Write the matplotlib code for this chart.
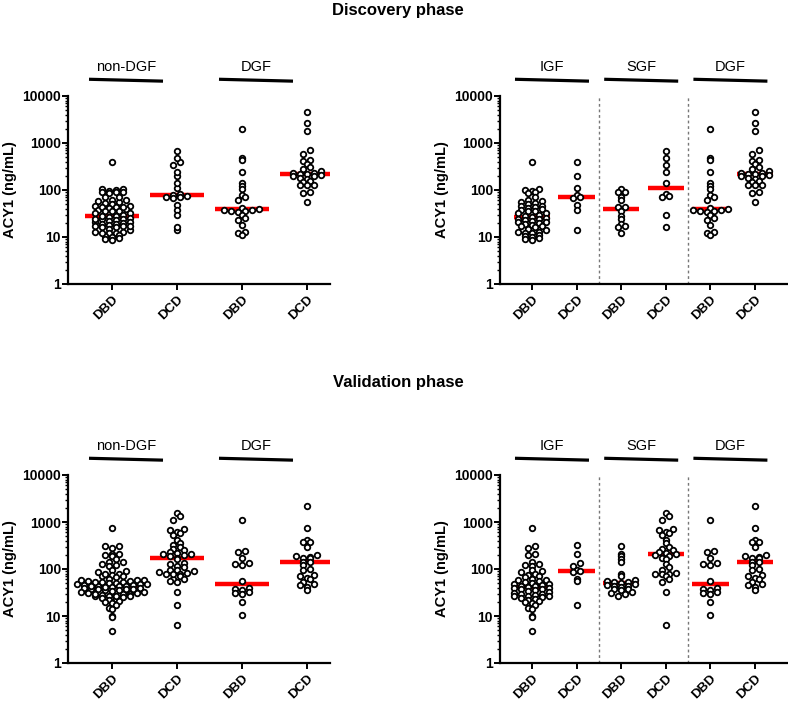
import numpy as np
import matplotlib
matplotlib.use("Agg")
import matplotlib.pyplot as plt
from matplotlib.ticker import FixedLocator, LogLocator, NullFormatter

plt.rcParams['font.family'] = ['Liberation Sans', 'DejaVu Sans']

# ---- Discovery phase (ng/mL) ----
disc_igf_dbd = [390, 105, 100, 95, 90, 88, 70, 62, 58, 55, 52, 50, 46, 45, 43, 41, 40, 38,
                36, 35, 33, 32, 30, 28, 27, 25, 24, 24, 23, 22, 21, 21, 20, 19, 18, 17, 17,
                16, 15, 14, 13, 13, 12, 12, 11, 10.5, 10, 9.5, 9, 8.5]
disc_igf_dcd = [385, 200, 108, 77, 72, 68, 48, 38, 14]
disc_sgf_dbd = [105, 92, 89, 72, 61, 43, 43, 35, 28, 24, 19, 17, 16, 12]
disc_sgf_dcd = [670, 475, 338, 247, 143, 82, 73, 70, 30, 16]
disc_dgf_dbd = [2000, 480, 430, 240, 140, 120, 105, 80, 70, 62, 42, 40, 38, 37, 36, 35, 34,
                30, 25, 23, 18, 13, 12, 11]
disc_dgf_dcd = [4500, 2700, 1800, 710, 590, 440, 410, 360, 315, 275, 250, 230, 225, 220, 215,
                210, 200, 195, 180, 175, 155, 150, 130, 128, 125, 90, 85, 56]

# ---- Validation phase (ng/mL) ----
val_igf_dbd = [730, 305, 280, 205, 200, 140, 125, 120, 115, 97, 90, 85, 80, 76, 70, 66, 62, 59,
               57, 55, 53, 51, 49, 47, 46, 44, 43, 41, 40, 39, 38, 37, 36, 34, 33, 31, 30, 29,
               28, 27, 26, 26, 25, 24, 23, 22, 21, 20, 19, 17, 15, 14, 10, 9.5, 4.8]
val_igf_dcd = [320, 205, 135, 115, 95, 90, 88, 62, 55, 17]
val_sgf_dbd = [305, 213, 187, 163, 139, 79, 70, 57, 55, 53, 52, 51, 49, 46, 44, 43, 42, 38, 37,
               36, 32, 31, 30, 27]
val_sgf_dcd = [1530, 1340, 1100, 700, 680, 600, 580, 520, 405, 360, 290, 265, 250, 230, 215,
               210, 200, 190, 175, 160, 128, 109, 95, 82, 80, 80, 78, 72, 61, 52, 32, 6.5]
val_dgf_dbd = [1100, 245, 235, 175, 137, 125, 121, 55, 40, 37, 36, 32, 31, 30, 20, 10.5]
val_dgf_dcd = [2200, 740, 410, 380, 380, 290, 200, 185, 180, 175, 170, 140, 138, 122, 100, 95,
               74, 72, 63, 60, 54, 48, 46, 41, 35]

donor_labels_2 = ['DBD', 'DCD', 'DBD', 'DCD']
donor_labels_3 = ['DBD', 'DCD', 'DBD', 'DCD', 'DBD', 'DCD']
outcome_2 = ['non-DGF', 'DGF']
outcome_3 = ['IGF', 'SGF', 'DGF']
yticks = [1, 10, 100, 1000, 10000]

W, H = 788, 704
PX_DEC = 47.0   # pixels per decade on the y axis
STEP = 7.0      # horizontal spacing between points in a row (px)
ROW_H = 4.2     # height of a row bin (px)


def swarm_offsets(vals, step, row_h, px_per_dec):
    # GraphPad-like scatter: bin values into rows, spread each row around the centre
    ys = np.log10(vals) * px_per_dec
    rows = np.floor(ys / row_h).astype(int)
    xs = np.zeros(len(ys))
    for r in np.unique(rows):
        idx = np.where(rows == r)[0]
        idx = idx[np.argsort(ys[idx])]
        n = len(idx)
        pos = (np.arange(n) - (n - 1) / 2) * step
        order = np.argsort(np.abs(pos), kind='stable')
        for k, i in enumerate(idx):
            xs[i] = pos[order[k]]
    return xs


def draw_panel(ax, groups, xlabels, outcomes, xlim, bar_shift, dividers=()):
    ax.set_xlim(*xlim)
    ax.set_yscale('log')
    ax.set_ylim(1, 10000)
    px_unit = ax.get_position().width * W / (xlim[1] - xlim[0])

    for i, vals in enumerate(groups):
        vals = np.asarray(vals, float)
        off = swarm_offsets(vals, STEP, ROW_H, PX_DEC) / px_unit
        med = np.median(vals)
        ax.plot([i - 0.41, i + 0.41], [med, med], color='#ff0000', lw=3.2,
                solid_capstyle='butt', zorder=2)
        ax.scatter(i + off, vals, s=16, facecolor='white', edgecolor='black',
                   linewidth=1.3, zorder=3, clip_on=False)

    for d in dividers:
        ax.axvline(d, color='#777777', lw=1.0, ls=(0, (2, 2)), zorder=1)

    # outcome headers with bars
    tr = ax.get_xaxis_transform()
    for k, name in enumerate(outcomes):
        j = 2 * k
        x0 = j - bar_shift / px_unit
        x1 = x0 + 74 / px_unit
        ax.plot([x0, x1], [1.089, 1.079], color='black', lw=2.3, transform=tr,
                clip_on=False, solid_capstyle='butt')
        ax.text((x0 + x1) / 2, 1.155, name, transform=tr, ha='center', va='center',
                fontsize=10.5)

    for s in ['top', 'right']:
        ax.spines[s].set_visible(False)
    for s in ['left', 'bottom']:
        ax.spines[s].set_linewidth(1.6)

    ax.yaxis.set_major_locator(FixedLocator(yticks))
    ax.yaxis.set_minor_locator(LogLocator(base=10, subs=range(2, 10)))
    ax.yaxis.set_minor_formatter(NullFormatter())
    ax.set_yticklabels([str(t) for t in yticks], fontweight='bold', fontsize=10)
    ax.tick_params(axis='y', which='major', length=4, width=1.4, pad=1)
    ax.tick_params(axis='y', which='minor', length=2.5, width=1.0)

    ax.set_xticks(range(len(groups)))
    ax.set_xticklabels(xlabels, rotation=45, ha='right', rotation_mode='anchor',
                       fontweight='bold', fontsize=9.5)
    ax.tick_params(axis='x', length=4, width=1.4, pad=2.5)

    ax.set_ylabel('ACY1 (ng/mL)', fontweight='bold', fontsize=10.5)


fig = plt.figure(figsize=(W / 100, H / 100), dpi=100)

left_l, left_w = 68 / W, 262 / W
right_l, right_w = 500 / W, 287 / W
top_b = 1 - 284 / H
bot_b = 1 - 663 / H
ax_h = 188 / H

ax1 = fig.add_axes([left_l, top_b, left_w, ax_h])
ax2 = fig.add_axes([right_l, top_b, right_w, ax_h])
ax3 = fig.add_axes([left_l, bot_b, left_w, ax_h])
ax4 = fig.add_axes([right_l, bot_b, right_w, ax_h])

xlim2 = (-0.677, 3.354)
xlim3 = (-0.717, 5.717)

draw_panel(ax1, [disc_igf_dbd + disc_sgf_dbd, disc_igf_dcd + disc_sgf_dcd,
                 disc_dgf_dbd, disc_dgf_dcd],
           donor_labels_2, outcome_2, xlim2, bar_shift=23)
draw_panel(ax2, [disc_igf_dbd, disc_igf_dcd, disc_sgf_dbd, disc_sgf_dcd,
                 disc_dgf_dbd, disc_dgf_dcd],
           donor_labels_3, outcome_3, xlim3, bar_shift=17, dividers=(1.5, 3.5))
draw_panel(ax3, [val_igf_dbd + val_sgf_dbd, val_igf_dcd + val_sgf_dcd,
                 val_dgf_dbd, val_dgf_dcd],
           donor_labels_2, outcome_2, xlim2, bar_shift=23)
draw_panel(ax4, [val_igf_dbd, val_igf_dcd, val_sgf_dbd, val_sgf_dcd,
                 val_dgf_dbd, val_dgf_dcd],
           donor_labels_3, outcome_3, xlim3, bar_shift=17, dividers=(1.5, 3.5))

ax1.yaxis.set_label_coords(-0.194, 0.5)
ax3.yaxis.set_label_coords(-0.194, 0.5)
ax2.yaxis.set_label_coords(-0.178, 0.5)
ax4.yaxis.set_label_coords(-0.178, 0.5)

fig.text(398 / W, 1 - 10 / H, 'Discovery phase', ha='center', va='center',
         fontsize=12, fontweight='bold')
fig.text(398 / W, 1 - 383 / H, 'Validation phase', ha='center', va='center',
         fontsize=12, fontweight='bold')

fig.savefig('out.png', dpi=100)
